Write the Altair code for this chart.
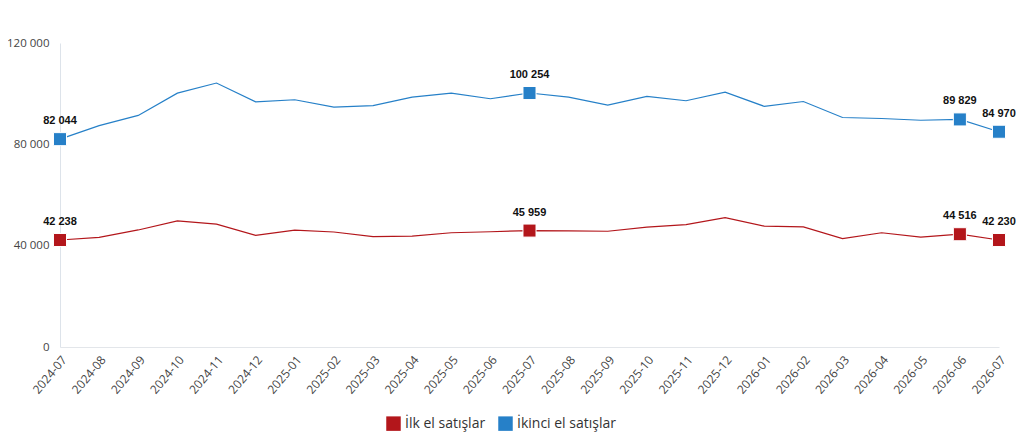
import altair as alt
import pandas as pd

months = ["2024-07", "2024-08", "2024-09", "2024-10", "2024-11", "2024-12",
          "2025-01", "2025-02", "2025-03", "2025-04", "2025-05", "2025-06",
          "2025-07", "2025-08", "2025-09", "2025-10", "2025-11", "2025-12",
          "2026-01", "2026-02", "2026-03", "2026-04", "2026-05", "2026-06", "2026-07"]

ilk_el = [42238, 43300, 46200, 49800, 48500, 44100, 46100, 45400, 43600, 43800,
          45100, 45500, 45959, 45800, 45700, 47300, 48300, 51100, 47700, 47400,
          42800, 45100, 43400, 44516, 42230]

ikinci_el = [82044, 87400, 91400, 100200, 104200, 96800, 97600, 94700, 95300, 98600,
             100200, 98000, 100254, 98600, 95500, 98900, 97200, 100600, 95000, 96900,
             90600, 90200, 89500, 89829, 84970]

highlight_months = ["2024-07", "2025-07", "2026-06", "2026-07"]

series_names = ["İlk el satışlar", "İkinci el satışlar"]
series_colors = ["#B3161B", "#2680C8"]

rows = []
for name, vals in zip(series_names, [ilk_el, ikinci_el]):
    for m, v in zip(months, vals):
        rows.append({"month": m, "series": name, "value": v,
                     "label": f"{v:,}".replace(",", " "),
                     "hl": m in highlight_months})
df = pd.DataFrame(rows)

font = "Open Sans"

x = alt.X("month:O", title=None, sort=months,
          scale=alt.Scale(type="point", padding=0),
          axis=alt.Axis(labelAngle=-50, labelAlign="right", labelBaseline="top",
                        labelFontSize=12, labelColor="#444444", labelFont=font,
                        labelPadding=7, ticks=False, domainColor="#e3e6ea",
                        labelOverlap=False))
y = alt.Y("value:Q", title=None,
          scale=alt.Scale(domain=[0, 120000], nice=False),
          axis=alt.Axis(values=[0, 40000, 80000, 120000],
                        labelExpr="replace(format(datum.value, ',.0f'), ',', ' ')",
                        labelFontSize=11.5, labelColor="#444444", labelFont=font,
                        ticks=False, grid=False, domainColor="#dde3ea",
                        labelPadding=11))
color_scale = alt.Scale(domain=series_names, range=series_colors)
color = alt.Color("series:N", sort=series_names, scale=color_scale,
                  legend=alt.Legend(title=None, orient="none", direction="horizontal",
                                    legendX=326, legendY=373,
                                    symbolType="square", symbolSize=210,
                                    symbolStrokeWidth=0, labelFontSize=14,
                                    labelFont=font, labelColor="#333333",
                                    columnPadding=12))

base = alt.Chart(df)
lines = base.mark_line(strokeWidth=1.2).encode(x=x, y=y, color=color)
points = base.transform_filter("datum.hl").mark_square(
    size=170, opacity=1, filled=True, stroke="#ffffff", strokeWidth=1
).encode(x=x, y=y, color=alt.Color("series:N", sort=series_names,
                                   scale=color_scale, legend=None))
labels = base.transform_filter("datum.hl").mark_text(
    dy=-18, fontSize=11, fontWeight="bold", font="Liberation Sans", color="#111111"
).encode(x=x, y=y, text="label:N")

chart = (lines + points + labels).properties(
    width=939, height=304,
    autosize=alt.AutoSizeParams(type="none"),
    padding={"left": 52, "top": 35, "right": 17, "bottom": 86},
).configure(font=font).configure_view(strokeWidth=0)

chart.save("out.html", embed_options={"renderer": "svg", "actions": False})
